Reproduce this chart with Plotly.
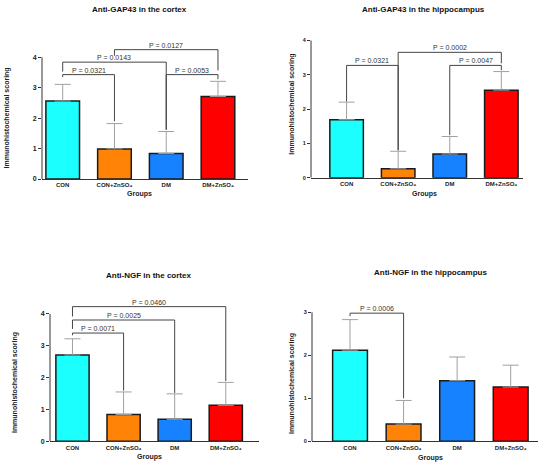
import plotly.graph_objects as go

# ---------------- data ----------------
categories = ["CON", "CON+ZnSO₄", "DM", "DM+ZnSO₄"]
bar_colors = ["#1cffff", "#ff8307", "#1782ff", "#fe0000"]

titles = ["Anti-GAP43 in the cortex", "Anti-GAP43 in the hippocampus",
          "Anti-NGF in the cortex", "Anti-NGF in the hippocampus"]

gap_cortex_mean = [2.56, 0.99, 0.84, 2.71]
gap_cortex_sd = [0.55, 0.83, 0.72, 0.50]
gap_hippo_mean = [1.69, 0.26, 0.69, 2.55]
gap_hippo_sd = [0.51, 0.51, 0.51, 0.54]
ngf_cortex_mean = [2.71, 0.84, 0.69, 1.13]
ngf_cortex_sd = [0.51, 0.71, 0.80, 0.72]
ngf_hippo_mean = [2.12, 0.40, 1.41, 1.26]
ngf_hippo_sd = [0.71, 0.55, 0.55, 0.51]

# brackets: (left group, right group, height, label, left-leg bottom, right-leg bottom)
gap_cortex_brackets = [
    (0, 1, 3.43, "P = 0.0321", 3.35, 1.90),
    (0, 2, 3.84, "P = 0.0143", 3.53, 1.62),
    (1, 3, 4.25, "P = 0.0127", 4.05, 3.57),
    (2, 3, 3.43, "P = 0.0053", 1.62, 3.28),
]
gap_hippo_brackets = [
    (0, 1, 3.27, "P = 0.0321", 2.22, 0.80),
    (1, 3, 3.65, "P = 0.0002", 0.80, 3.33),
    (2, 3, 3.27, "P = 0.0047", 1.24, 3.13),
]
ngf_cortex_brackets = [
    (0, 1, 3.40, "P = 0.0071", 3.33, 1.59),
    (0, 2, 3.81, "P = 0.0025", 3.53, 1.52),
    (0, 3, 4.23, "P = 0.0460", 3.92, 1.89),
]
ngf_hippo_brackets = [
    (0, 1, 2.98, "P = 0.0006", 2.91, 1.00),
]

y_ticks_4 = [0, 1, 2, 3, 4]
y_ticks_3 = [0, 1, 2, 3]

# ---------------- layout geometry (pixels) ----------------
W, H = 550, 468
FONT = "Liberation Sans, Arial, sans-serif"
AX = "#333333"

panels = [
    dict(mean=gap_cortex_mean, sd=gap_cortex_sd, br=gap_cortex_brackets, ticks=y_ticks_4,
         left=42, right=248, y0=178.3, ppu=30.83, xr=[-0.40, 3.58], ytop=4.35, tfs=7,
         title_xy=(140, 7), groups_xy=(140, 193), ytitle_xy=(6, 117)),
    dict(mean=gap_hippo_mean, sd=gap_hippo_sd, br=gap_hippo_brackets, ticks=y_ticks_4,
         left=311, right=523, y0=177.0, ppu=34.8, xr=[-0.69, 3.42], ytop=4.0, tfs=5.5,
         title_xy=(423, 7), groups_xy=(424, 193), ytitle_xy=(292, 103)),
    dict(mean=ngf_cortex_mean, sd=ngf_cortex_sd, br=ngf_cortex_brackets, ticks=y_ticks_4,
         left=50, right=259, y0=444.0, ppu=32.25, xr=[-0.44, 3.65], ytop=4.3, tfs=7,
         title_xy=(148, 276), groups_xy=(149, 460), ytitle_xy=(15, 385)),
    dict(mean=ngf_hippo_mean, sd=ngf_hippo_sd, br=ngf_hippo_brackets, ticks=y_ticks_3,
         left=312, right=538, y0=444.0, ppu=43.56, xr=[-0.71, 3.51], ytop=3.05, tfs=5.5,
         title_xy=(430, 273), groups_xy=(430, 461), ytitle_xy=(292, 386)),
]

fig = go.Figure()
shapes = []
annotations = []

for k, p in enumerate(panels, start=1):
    sfx = "" if k == 1 else str(k)
    xname, yname = "x" + sfx, "y" + sfx
    fig.add_trace(go.Bar(
        x=categories, y=p["mean"], xaxis=xname, yaxis=yname,
        width=0.65,
        marker=dict(color=bar_colors, line=dict(color="#1a1a1a", width=1.5)),
        error_y=dict(type="data", symmetric=False, array=p["sd"],
                     arrayminus=[0] * len(categories),
                     color="#a0a0a0", thickness=1, width=8),
        showlegend=False, hoverinfo="skip",
    ))
    ydom = [1 - p["y0"] / H, 1 - (p["y0"] - p["ytop"] * p["ppu"]) / H]
    fig.layout["xaxis" + sfx] = dict(
        domain=[p["left"] / W, p["right"] / W], anchor=yname,
        range=p["xr"], type="category",
        showline=True, linecolor=AX, linewidth=1, ticks="",
        showgrid=False, zeroline=False,
        tickfont=dict(family=FONT, size=6, color="#222", weight="bold"),
    )
    fig.layout["yaxis" + sfx] = dict(
        domain=ydom, anchor=xname, range=[0, p["ytop"]],
        tickvals=p["ticks"], showline=False, ticks="outside", ticklen=3,
        tickwidth=1, tickcolor=AX, showgrid=False, zeroline=False,
        tickfont=dict(family=FONT, size=p["tfs"], color="#222", weight="bold"),
    )
    # y axis line from 0 to last tick
    shapes.append(dict(type="line", xref=xname + " domain", yref=yname,
                       x0=0, x1=0, y0=0, y1=p["ticks"][-1],
                       line=dict(color=AX, width=1)))
    # significance brackets
    for (i, j, yb, lab, lb, rb) in p["br"]:
        ci, cj = categories[i], categories[j]
        for (xa, ya, xb, yb2) in [(ci, lb, ci, yb), (ci, yb, cj, yb), (cj, yb, cj, rb)]:
            shapes.append(dict(type="line", xref=xname, yref=yname,
                               x0=xa, y0=ya, x1=xb, y1=yb2,
                               line=dict(color="#454545", width=1)))
        annotations.append(dict(xref=xname, yref=yname, x=(i + j) / 2, y=yb,
                                text=lab, showarrow=False, yanchor="bottom",
                                yshift=-1,
                                font=dict(family=FONT, size=7, color="#333")))
    tx, ty = p["title_xy"]
    annotations.append(dict(xref="paper", yref="paper", x=tx / W, y=1 - ty / H,
                            text=titles[k - 1], showarrow=False,
                            xanchor="center", yanchor="middle",
                            font=dict(family=FONT, size=8, color="#111", weight="bold")))
    gx, gy = p["groups_xy"]
    annotations.append(dict(xref="paper", yref="paper", x=gx / W, y=1 - gy / H,
                            text="Groups", showarrow=False,
                            xanchor="center", yanchor="middle",
                            font=dict(family=FONT, size=7, color="#222", weight="bold")))
    yx, yy = p["ytitle_xy"]
    annotations.append(dict(xref="paper", yref="paper", x=yx / W, y=1 - yy / H,
                            text="Immunohistochemical scoring", showarrow=False,
                            textangle=-90, xanchor="center", yanchor="middle",
                            font=dict(family=FONT, size=7, color="#222", weight="bold")))

fig.update_layout(
    width=W, height=H, margin=dict(l=0, r=0, t=0, b=0),
    paper_bgcolor="white", plot_bgcolor="white",
    shapes=shapes, annotations=annotations, bargap=0.35,
    hovermode=False,
)

fig.write_html("out.html", config={"displayModeBar": False, "staticPlot": True},
               post_script="document.body.style.margin='0';document.body.style.overflow='hidden';")
